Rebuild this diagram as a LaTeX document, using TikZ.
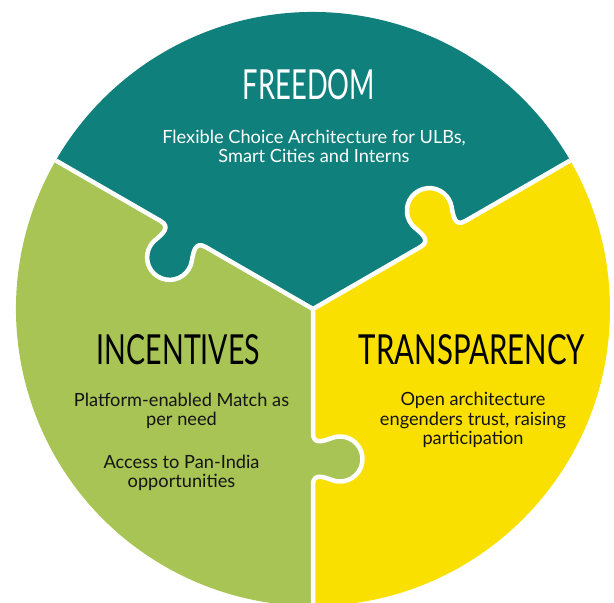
\documentclass[tikz,border=0pt]{standalone}
\usepackage{graphicx}
\usepackage{fontspec}
\setmainfont{Lato}
\newfontfamily\headfont{Lato}
\usetikzlibrary{calc}
\definecolor{pzteal}{HTML}{0F807C}
\definecolor{pzgreen}{HTML}{A7C455}
\definecolor{pzyellow}{HTML}{FAE000}
\definecolor{pzink}{HTML}{141414}
% boundary from centre to rim along ray #1, knob on the left-hand side
\newcommand{\edgeout}[1]{(C) -- ($(C)+(#1:124)$) .. controls ($(C)+(#1:136)$) and ($(C)+(#1:132.3)+(#1+90:9.9)$) .. ($(C)+(#1:128.86)+(#1+90:19.3)$) arc[start angle=#1+200, end angle=#1-20, radius=22.5] .. controls ($(C)+(#1:167.7)+(#1+90:9.9)$) and ($(C)+(#1:164)$) .. ($(C)+(#1:176)$) -- ($(C)+(#1:297)$)}
% same boundary, from rim back to centre
\newcommand{\edgein}[1]{-- ($(C)+(#1:176)$) .. controls ($(C)+(#1:164)$) and ($(C)+(#1:167.7)+(#1+90:9.9)$) .. ($(C)+(#1:171.14)+(#1+90:19.3)$) arc[start angle=#1-20, end angle=#1+200, radius=22.5] .. controls ($(C)+(#1:132.3)+(#1+90:9.9)$) and ($(C)+(#1:136)$) .. ($(C)+(#1:124)$) -- (C)}
\tikzset{
  seam/.style={draw=white, line width=4.5pt, line join=round},
  head/.style={anchor=base, inner sep=0pt},
  body/.style={anchor=base, inner sep=0pt, align=center, font=\fontsize{18.2}{19.8}\selectfont},
}
\begin{document}
\begin{tikzpicture}[x=1pt,y=1pt]
\useasboundingbox (0,0) rectangle (614,603);
\coordinate (C) at (313,294);
% pieces
\fill[pzteal] \edgeout{30} arc[start angle=30, end angle=150, radius=297] \edgein{150} -- cycle;
\fill[pzgreen] \edgeout{150} arc[start angle=150, end angle=270, radius=297] \edgein{270} -- cycle;
\fill[pzyellow] \edgeout{270} arc[start angle=270, end angle=390, radius=297] \edgein{30} -- cycle;
% white seams
\path[seam] \edgeout{30};
\path[seam] \edgeout{150};
\path[seam] \edgeout{270};
% headings
\node[head, text=white] (freedom) at (309,503) {\resizebox{132pt}{30pt}{\headfont FREEDOM}};
\node[head, text=black] (incentives) at (178.5,238) {\resizebox{163pt}{30pt}{\headfont INCENTIVES}};
\node[head, text=black] (transparency) at (472,238) {\resizebox{226pt}{30pt}{\headfont TRANSPARENCY}};
% texts (anchored at the baseline of their last line)
\node[body, text=white] (ftext) at (314,440) {Flexible Choice Architecture for ULBs,\\Smart Cities and Interns};
\node[body, text=pzink] (itext1) at (181.5,177) {Platform-enabled Match as\\per need};
\node[body, text=pzink] (itext2) at (181.5,115) {Access to Pan-India\\opportunities};
\node[body, text=pzink] (ttext) at (473,158) {Open architecture\\engenders trust, raising\\participation};
\end{tikzpicture}
\end{document}
